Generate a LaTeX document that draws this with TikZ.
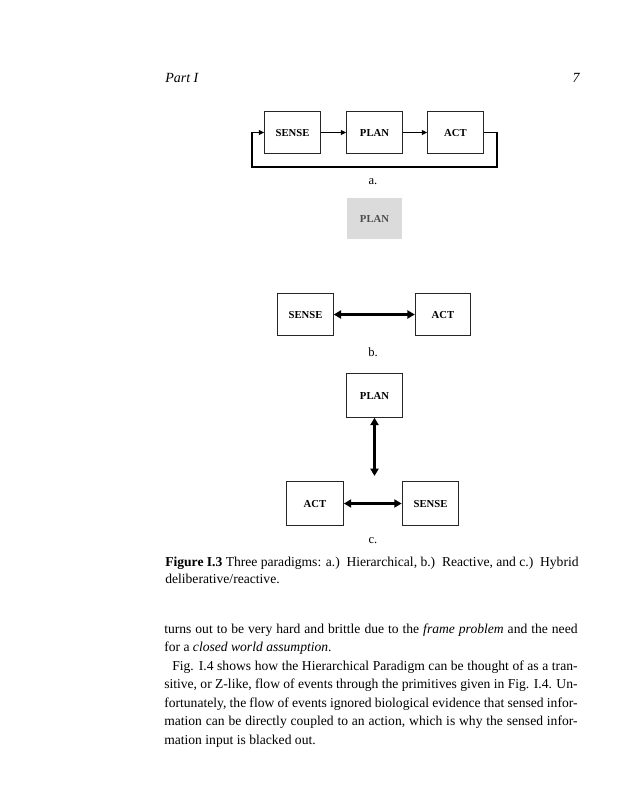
\documentclass[tikz,border=0pt]{standalone}
\usepackage{fontspec}
\setmainfont{Liberation Serif}
\usetikzlibrary{arrows.meta}
\begin{document}
\begin{tikzpicture}[x=0.75pt,y=-0.75pt,
  box/.style={draw=black!85,line width=0.8pt,minimum width=41.5pt,minimum height=31pt,inner sep=0pt,text height=5.4pt,text depth=0pt,font=\fontsize{8}{9}\selectfont\bfseries},
  cbox/.style={box,minimum width=42.5pt,minimum height=32.5pt},
  ghost/.style={fill=black!14,minimum width=41.5pt,minimum height=31pt,inner sep=0pt,text height=5.4pt,text depth=0pt,text=black!70,font=\fontsize{8}{9}\selectfont\bfseries},
  thin/.style={line width=0.9pt,-{Triangle[length=4pt,width=3.5pt]}},
  thick2/.style={line width=2.4pt,{Triangle[length=5.5pt,width=6pt]}-{Triangle[length=5.5pt,width=6pt]}},
  lab/.style={font=\fontsize{9.5}{11}\selectfont},
  txt/.style={anchor=base west,inner sep=0pt,font=\fontsize{10.2}{13}\selectfont}
]
\useasboundingbox (0,0) rectangle (620,800);
% header
\node[txt,font=\fontsize{10.5}{13}\selectfont\itshape] (hdr) at (165,82) {Part I};
\node[txt,anchor=base east,font=\fontsize{10.5}{13}\selectfont\itshape] (pg) at (580,82) {7};
% (a)
\node[box] (s1) at (292.5,132.5) {SENSE};
\node[box] (p1) at (374.5,132.5) {PLAN};
\node[box] (a1) at (455.5,132.5) {ACT};
\coordinate (fr) at (497,167);
\coordinate (fl) at (252,167);
\draw[thin] (s1) -- (p1);
\draw[thin] (p1) -- (a1);
\draw[thin] (a1.east) -| (fr) -- (fl) |- (s1.west);
\node[lab] (la) at (373,182) {a.};
% ghost plan
\node[ghost] (gp) at (374.5,218.5) {PLAN};
% (b)
\node[box] (s2) at (305.5,314.5) {SENSE};
\node[box] (a2) at (443,314.5) {ACT};
\draw[thick2] (s2) -- (a2);
\node[lab] (lb) at (373,352) {b.};
% (c)
\node[cbox] (p3) at (374.5,395.5) {PLAN};
\node[cbox] (a3) at (315,503.5) {ACT};
\node[cbox] (s3) at (430.5,503.5) {SENSE};
\coordinate (cm) at (374.5,476);
\draw[thick2] (p3.south) -- (cm);
\draw[thick2] (a3) -- (s3);
\node[lab] (lc) at (373,541) {c.};
% caption
\node[txt] (c1) at (165,566) {\makebox[310pt][s]{\textbf{Figure I.3} Three paradigms: a.)~~Hierarchical, b.)~~Reactive, and c.)~~Hybrid}};
\node[txt] (c2) at (165,583.5) {deliberative/reactive.};
% body
\node[txt] (t1) at (164,633) {\makebox[310pt][s]{turns out to be very hard and brittle due to the \textit{frame problem} and the need}};
\node[txt] (t2) at (164,651.5) {for a \textit{closed world assumption}.};
\node[txt] (t3) at (172,670) {\makebox[304pt][s]{Fig. I.4 shows how the Hierarchical Paradigm can be thought of as a tran-}};
\node[txt] (t4) at (164,688.5) {\makebox[310pt][s]{sitive, or Z-like, flow of events through the primitives given in Fig. I.4. Un-}};
\node[txt] (t5) at (164,707) {\makebox[310pt][s]{fortunately, the flow of events ignored biological evidence that sensed infor-}};
\node[txt] (t6) at (164,725.5) {\makebox[310pt][s]{mation can be directly coupled to an action, which is why the sensed infor-}};
\node[txt] (t7) at (164,744) {mation input is blacked out.};
\end{tikzpicture}
\end{document}
